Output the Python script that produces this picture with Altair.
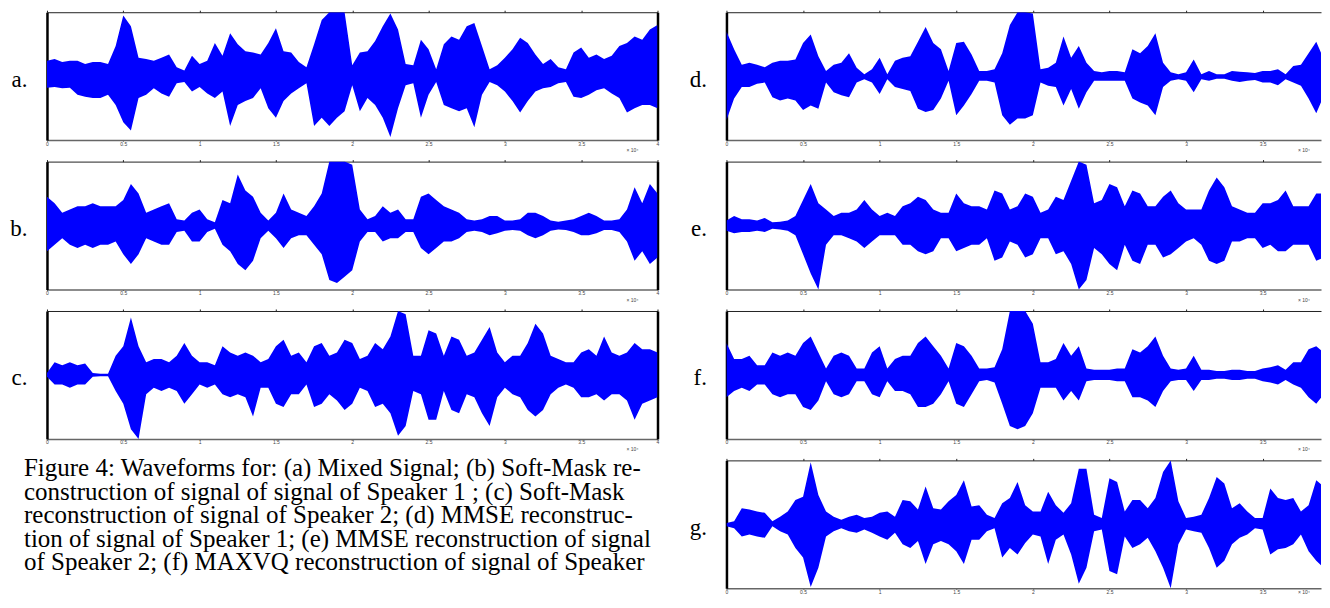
import altair as alt
import pandas as pd

# sample positions (x 10^4 samples)
T = [round(i * 0.05, 2) for i in range(81)]
TICKS = [0, 0.5, 1, 1.5, 2, 2.5, 3, 3.5, 4]

# upper / lower envelopes (normalised, panel spans -1..1)
a_up = [.24, .27, .22, .24, .24, .19, .22, .22, .19, .47,
        .95, .78, .29, .27, .24, .29, .34, .14, .09, .32,
        .19, .24, .52, .32, .67, .50, .39, .37, .34, .52,
        .75, .39, .37, .22, .14, .50, .88, 1.0, 1.0, 1.0,
        .17, .37, .39, .55, .78, .98, .73, .19, .17, .57,
        .42, .11, .50, .62, .57, .78, .83, .47, .11, .17,
        .29, .42, .60, .52, .34, .19, .27, .14, .11, .37,
        .45, .29, .34, .27, .32, .47, .52, .62, .57, .73, .80]
a_lo = [-.18, -.17, -.19, -.18, -.29, -.32, -.34, -.34, -.29, -.45,
        -.72, -.85, -.34, -.29, -.19, -.27, -.32, -.11, -.09, -.24,
        -.17, -.27, -.34, -.24, -.78, -.45, -.39, -.34, -.19, -.50,
        -.65, -.39, -.27, -.19, -.11, -.78, -.65, -.78, -.65, -.55,
        -.14, -.55, -.34, -.45, -.65, -.95, -.50, -.14, -.11, -.65,
        -.29, -.09, -.45, -.50, -.55, -.50, -.80, -.29, -.09, -.14,
        -.24, -.39, -.57, -.39, -.24, -.19, -.17, -.11, -.09, -.32,
        -.34, -.29, -.22, -.19, -.27, -.34, -.57, -.50, -.45, -.45, -.50]

b_up = [.45, .35, .20, .25, .30, .30, .35, .30, .30, .30,
        .40, .65, .50, .20, .25, .30, .35, .10, .08, .20,
        .25, .10, .05, .40, .35, .80, .55, .45, .20, .08,
        .20, .50, .25, .20, .15, .30, .50, 1.0, 1.0, 1.0,
        .95, .25, .10, .15, .30, .20, .25, .10, .10, .45,
        .50, .40, .30, .25, .20, .10, .08, .10, .15, .15,
        .08, .08, .10, .20, .20, .15, .08, .06, .08, .10,
        .15, .20, .15, .08, .08, .10, .25, .60, .35, .65, .50]
b_lo = [-.40, -.30, -.20, -.30, -.35, -.30, -.35, -.30, -.30, -.25,
        -.45, -.60, -.45, -.20, -.25, -.30, -.30, -.10, -.08, -.25,
        -.25, -.10, -.05, -.30, -.40, -.60, -.70, -.55, -.20, -.08,
        -.20, -.35, -.20, -.15, -.15, -.30, -.45, -.85, -.90, -.80,
        -.70, -.25, -.10, -.10, -.25, -.20, -.20, -.10, -.10, -.35,
        -.45, -.35, -.25, -.25, -.20, -.10, -.08, -.10, -.15, -.12,
        -.08, -.07, -.08, -.15, -.20, -.15, -.08, -.06, -.07, -.10,
        -.15, -.15, -.12, -.07, -.07, -.10, -.25, -.55, -.40, -.60, -.50]

c_up = [.03, .20, .15, .20, .15, .18, .03, .02, .02, .30,
        .45, .90, .45, .20, .25, .25, .20, .30, .50, .30,
        .20, .20, .15, .45, .35, .30, .35, .30, .20, .25,
        .45, .55, .30, .35, .20, .45, .50, .30, .35, .55,
        .50, .25, .30, .50, .40, .60, 1.0, .95, .30, .30,
        .70, .65, .30, .60, .55, .30, .35, .55, .75, .35,
        .20, .30, .30, .50, .80, .65, .30, .25, .20, .20,
        .35, .40, .30, .60, .35, .30, .35, .50, .40, .40, .35]
c_lo = [-.03, -.15, -.15, -.20, -.15, -.15, -.03, -.02, -.02, -.25,
        -.45, -.85, -1.0, -.30, -.20, -.25, -.20, -.25, -.45, -.30,
        -.15, -.20, -.15, -.30, -.35, -.30, -.35, -.65, -.20, -.20,
        -.45, -.50, -.30, -.30, -.15, -.50, -.45, -.30, -.40, -.55,
        -.45, -.20, -.25, -.50, -.45, -.60, -.95, -.80, -.25, -.30,
        -.70, -.70, -.25, -.55, -.60, -.30, -.35, -.60, -.80, -.35,
        -.20, -.30, -.35, -.55, -.65, -.55, -.30, -.20, -.15, -.20,
        -.35, -.35, -.30, -.40, -.30, -.30, -.40, -.70, -.45, -.40, -.35]

d_up = [.70, .42, .18, .21, .18, .14, .21, .24, .24, .26,
        .52, .65, .31, .08, .18, .21, .36, .13, .03, .11,
        .29, .03, .24, .29, .31, .54, .77, .52, .42, .08,
        .52, .54, .34, .08, .08, .11, .36, .80, 1.0, 1.0,
        .98, .11, .13, .21, .62, .29, .47, .21, .08, .06,
        .08, .08, .06, .42, .36, .47, .67, .21, .06, .03,
        .06, .26, .03, .08, .03, .03, .08, .07, .06, .05,
        .08, .08, .11, .03, .16, .18, .36, .54, .26, .13, .10]
d_lo = [-.69, -.35, -.17, -.17, -.12, -.10, -.33, -.38, -.35, -.38,
        -.53, -.46, -.51, -.10, -.25, -.30, -.33, -.10, -.05, -.10,
        -.28, -.05, -.17, -.20, -.23, -.51, -.56, -.53, -.35, -.07,
        -.61, -.46, -.28, -.07, -.07, -.10, -.61, -.76, -.66, -.66,
        -.61, -.10, -.15, -.17, -.46, -.20, -.51, -.25, -.07, -.07,
        -.07, -.07, -.07, -.35, -.41, -.46, -.61, -.17, -.07, -.05,
        -.07, -.25, -.05, -.07, -.04, -.04, -.07, -.09, -.07, -.06,
        -.10, -.10, -.14, -.05, -.10, -.15, -.35, -.58, -.30, -.15, -.12]

e_up = [.08, .15, .10, .10, .08, .12, .05, .06, .08, .15,
        .40, .65, .35, .25, .15, .20, .20, .25, .40, .25,
        .15, .20, .15, .30, .35, .45, .40, .25, .20, .20,
        .50, .35, .30, .30, .25, .55, .50, .25, .30, .50,
        .45, .20, .25, .45, .40, .70, 1.0, .95, .35, .40,
        .65, .60, .30, .55, .50, .30, .30, .45, .55, .35,
        .25, .25, .25, .55, .75, .60, .30, .25, .20, .20,
        .35, .35, .40, .55, .30, .30, .30, .50, .50, .45, .40]
e_lo = [-.08, -.12, -.10, -.10, -.08, -.10, -.05, -.06, -.08, -.15,
        -.45, -.75, -1.0, -.30, -.15, -.15, -.20, -.25, -.35, -.25,
        -.15, -.15, -.15, -.30, -.30, -.40, -.45, -.40, -.20, -.20,
        -.40, -.35, -.30, -.30, -.20, -.55, -.50, -.25, -.30, -.50,
        -.45, -.20, -.20, -.45, -.40, -.60, -1.0, -.85, -.35, -.45,
        -.60, -.70, -.30, -.55, -.60, -.30, -.30, -.50, -.45, -.35,
        -.25, -.20, -.30, -.55, -.60, -.55, -.25, -.25, -.20, -.20,
        -.35, -.30, -.40, -.40, -.30, -.30, -.30, -.55, -.50, -.50, -.40]

f_up = [.50, .25, .25, .30, .15, .15, .35, .30, .35, .30,
        .50, .60, .35, .10, .30, .35, .30, .10, .10, .35,
        .45, .10, .25, .30, .30, .50, .60, .45, .30, .10,
        .50, .45, .30, .10, .10, .12, .40, 1.0, 1.0, 1.0,
        .80, .20, .20, .25, .50, .30, .45, .10, .08, .08,
        .08, .10, .10, .40, .35, .45, .60, .30, .10, .08,
        .10, .30, .08, .08, .06, .06, .08, .08, .06, .06,
        .10, .12, .15, .08, .20, .20, .40, .45, .35, .35, .35]
f_lo = [-.35, -.25, -.20, -.25, -.15, -.15, -.30, -.35, -.30, -.30,
        -.50, -.55, -.40, -.10, -.30, -.35, -.30, -.10, -.10, -.30,
        -.35, -.10, -.25, -.25, -.30, -.50, -.50, -.45, -.30, -.10,
        -.45, -.50, -.30, -.10, -.08, -.12, -.45, -.80, -.85, -.80,
        -.60, -.20, -.20, -.20, -.40, -.25, -.40, -.10, -.08, -.08,
        -.08, -.10, -.10, -.35, -.35, -.40, -.50, -.25, -.10, -.08,
        -.08, -.25, -.08, -.08, -.06, -.06, -.08, -.08, -.06, -.06,
        -.10, -.12, -.15, -.08, -.15, -.20, -.35, -.45, -.30, -.35, -.35]

g_up = [.02, .05, .25, .23, .20, .18, .05, .12, .20, .38,
        .43, .97, .46, .20, .12, .07, .12, .15, .10, .12,
        .18, .20, .12, .38, .36, .23, .59, .25, .23, .36,
        .46, .69, .28, .30, .15, .10, .33, .41, .66, .30,
        .20, .20, .51, .30, .18, .33, .87, .87, .15, .10,
        .72, .66, .20, .38, .38, .25, .41, .82, 1.0, .36,
        .10, .12, .15, .41, .74, .64, .25, .33, .20, .10,
        .10, .56, .41, .38, .41, .20, .30, .69, .59, .56, .50]
g_lo = [-.03, -.06, -.19, -.16, -.19, -.21, -.03, -.11, -.16, -.37,
        -.52, -.98, -.68, -.19, -.11, -.06, -.11, -.13, -.08, -.13,
        -.19, -.24, -.13, -.31, -.37, -.26, -.62, -.31, -.26, -.31,
        -.42, -.62, -.24, -.24, -.11, -.06, -.52, -.37, -.47, -.29,
        -.16, -.19, -.62, -.24, -.16, -.47, -.93, -.68, -.11, -.08,
        -.73, -.78, -.19, -.37, -.31, -.21, -.42, -.68, -1.0, -.31,
        -.08, -.11, -.13, -.37, -.68, -.57, -.31, -.21, -.16, -.06,
        -.08, -.47, -.39, -.37, -.31, -.16, -.42, -.57, -.68, -.78, -.60]

CAPTION = [
    "Figure 4: Waveforms for: (a) Mixed Signal; (b) Soft-Mask re-",
    "construction of signal of signal of Speaker 1 ; (c) Soft-Mask",
    "reconstruction of signal of Speaker 2; (d) MMSE reconstruc-",
    "tion of signal of Speaker 1; (e) MMSE reconstruction of signal",
    "of Speaker 2; (f) MAXVQ reconstruction of signal of Speaker",
]

H = 128
W_L, XMAX_L = 611, 4.0
W_R, XMAX_R = 595, 3.881
SERIF = "Liberation Serif"


def panel(label, up, lo, width, xmax, right_border, exp_x, exp_dy):
    df = pd.DataFrame({"t": T, "up": up, "lo": lo})
    vals = [v for v in TICKS if v <= xmax + 1e-9]
    xs = alt.Scale(domain=[0, xmax], nice=False, zero=False)
    ys = alt.Scale(domain=[-1, 1], nice=False)
    area = alt.Chart(df).mark_area(color="#0000ff", clip=True).encode(
        x=alt.X("t:Q", scale=xs, axis=alt.Axis(
            orient="bottom", values=vals, format="~g", title=None, grid=False,
            labelFontSize=5, labelColor="#444", labelPadding=0, labelFlush=False,
            tickSize=1, tickColor="#444", domainColor="#666", domainWidth=1.5)),
        y=alt.Y("up:Q", scale=ys, axis=alt.Axis(
            orient="left", title=label, titleAngle=0, titleAlign="right",
            titleBaseline="alphabetic", titleX=-20, titleY=74, titleFont=SERIF,
            titleFontSize=23, titleFontWeight="normal", titleColor="black",
            labels=False, ticks=False, grid=False, domainColor="black", domainWidth=2.5)),
        y2="lo:Q",
    )
    yax = (alt.Axis(orient="right", labels=False, ticks=False, title=None, grid=False,
                    domainColor="black", domainWidth=2.5) if right_border else None)
    frame = alt.Chart(df).mark_point(opacity=0, size=1, clip=True).encode(
        x=alt.X("t:Q", scale=xs, axis=alt.Axis(
            orient="top", values=vals, labels=False, title=None, grid=False,
            tickSize=2, tickColor="#222", domainColor="#222", domainWidth=1)),
        y=alt.Y("up:Q", scale=ys, axis=yax),
    )
    exp = alt.Chart(pd.DataFrame({"s": ["× 10⁴"]})).mark_text(
        fontSize=5, color="#444", align="left", baseline="middle", font="Liberation Sans"
    ).encode(text="s:N", x=alt.value(exp_x), y=alt.value(H + exp_dy))
    return alt.layer(area, frame, exp).resolve_axis(
        x="independent", y="independent").properties(width=width, height=H)


cap_df = pd.DataFrame({"line": list(range(len(CAPTION))), "txt": CAPTION})
cap = alt.Chart(cap_df).mark_text(
    align="left", baseline="middle", font=SERIF, fontSize=25, color="black"
).encode(
    x=alt.value(-23),
    y=alt.Y("line:Q", scale=alt.Scale(domain=[0, 4], range=[8, 102]), axis=None),
    text="txt:N",
).properties(width=W_L, height=H)

chart = alt.concat(
    panel("a.", a_up, a_lo, W_L, XMAX_L, True, 580, 10),
    panel("d.", d_up, d_lo, W_R, XMAX_R, False, 572, 10),
    panel("b.", b_up, b_lo, W_L, XMAX_L, True, 580, 10),
    panel("e.", e_up, e_lo, W_R, XMAX_R, False, 572, 10),
    panel("c.", c_up, c_lo, W_L, XMAX_L, True, 580, 10),
    panel("f.", f_up, f_lo, W_R, XMAX_R, False, 572, 10),
    cap,
    panel("g.", g_up, g_lo, W_R, XMAX_R, False, 572, 4),
    columns=2, spacing={"row": 21.5, "column": 69}, bounds="flush", align="each",
).properties(
    padding={"left": 1, "top": 1, "right": 0, "bottom": 0}
).configure_view(stroke="transparent").configure_axis(labelFont="Liberation Sans")

chart.save("out.html", embed_options={"renderer": "svg", "actions": False})
